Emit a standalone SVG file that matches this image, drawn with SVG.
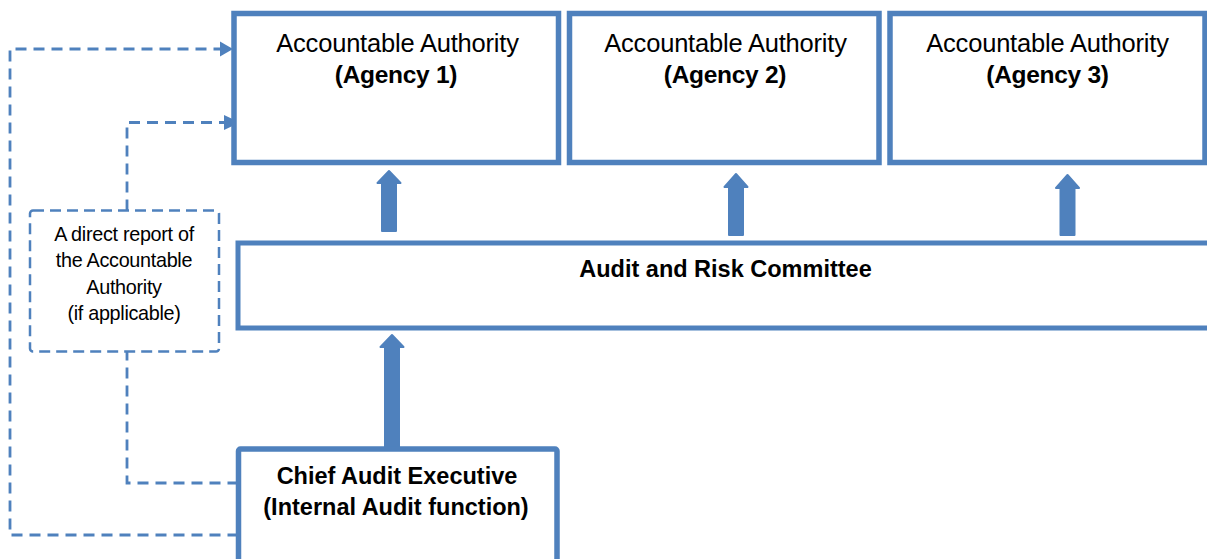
<svg xmlns="http://www.w3.org/2000/svg" width="1207" height="559" viewBox="0 0 1207 559">
<style>
.box{fill:#FFFFFF;stroke:#4F81BD;stroke-width:5.5}
.dbox{fill:#FFFFFF;stroke:#4F81BD;stroke-width:2.5;stroke-dasharray:11 6}
.dash{fill:none;stroke:#4F81BD;stroke-width:2.8;stroke-dasharray:11 7}
.ahead{fill:#4F81BD}
.blk{fill:#4F81BD;stroke:#4F81BD;stroke-width:2;stroke-linejoin:round}
.t{font-family:"Liberation Sans",Arial,sans-serif;fill:#000000;text-anchor:middle}
.n{font-size:25.5px;letter-spacing:-0.2px}
.nb{font-size:24.5px;letter-spacing:-0.3px;font-weight:bold}
.b{font-weight:bold}
.s{font-size:19.8px;letter-spacing:-0.3px}
</style>
<rect width="1207" height="559" fill="#FFFFFF"/>
<g id="connectors">
<path class="dash" d="M238.5,535 H10 V49 H221"/>
<polygon class="ahead" points="220,41.5 233,49 220,56.5"/>
<path class="dash" d="M238.5,483 H127 V351.5"/>
<path class="dash" d="M127,210.5 V122.5 H225"/>
<polygon class="ahead" points="224,115 240,122.5 224,130"/>
<path class="blk" d="M389,171 L400.5,183 L396,183 L396,231 L382,231 L382,183 L377.5,183 Z"/>
<path class="blk" d="M736,174 L747.5,187 L743,187 L743,235 L729,235 L729,187 L724.5,187 Z"/>
<path class="blk" d="M1067.5,175 L1079,188 L1074.5,188 L1074.5,235 L1060.5,235 L1060.5,188 L1056,188 Z"/>
<path class="blk" d="M392,335 L403.5,347 L399,347 L399,449 L385,449 L385,347 L380.5,347 Z"/>
</g>
<g id="agency1">
<rect class="box" x="234" y="13.5" width="324.5" height="149"/>
<text class="t n" x="397.5" y="52">Accountable Authority</text>
<text class="t nb" x="396" y="83">(Agency 1)</text>
</g>
<g id="agency2">
<rect class="box" x="569.5" y="13.5" width="309.5" height="149"/>
<text class="t n" x="725.5" y="52">Accountable Authority</text>
<text class="t nb" x="725" y="83">(Agency 2)</text>
</g>
<g id="agency3">
<rect class="box" x="890" y="13.5" width="315" height="149"/>
<text class="t n" x="1047.5" y="52">Accountable Authority</text>
<text class="t nb" x="1047.5" y="83">(Agency 3)</text>
</g>
<g id="arc">
<rect class="box" x="238" y="243" width="975" height="85" style="stroke-width:5"/>
<text class="t b" x="725.5" y="277" style="font-size:23.5px">Audit and Risk Committee</text>
</g>
<g id="cae">
<rect class="box" x="238.5" y="449" width="318.5" height="130" rx="2"/>
<text class="t b" x="397" y="484" style="font-size:23.5px">Chief Audit Executive</text>
<text class="t b" x="396" y="515" style="font-size:23.5px">(Internal Audit function)</text>
</g>
<g id="direct-report">
<rect class="dbox" x="30" y="210.5" width="189" height="141" rx="3"/>
<text class="t s" x="124" y="241">A direct report of</text>
<text class="t s" x="124" y="267">the Accountable</text>
<text class="t s" x="124" y="294">Authority</text>
<text class="t s" x="124" y="320">(if applicable)</text>
</g>
</svg>
